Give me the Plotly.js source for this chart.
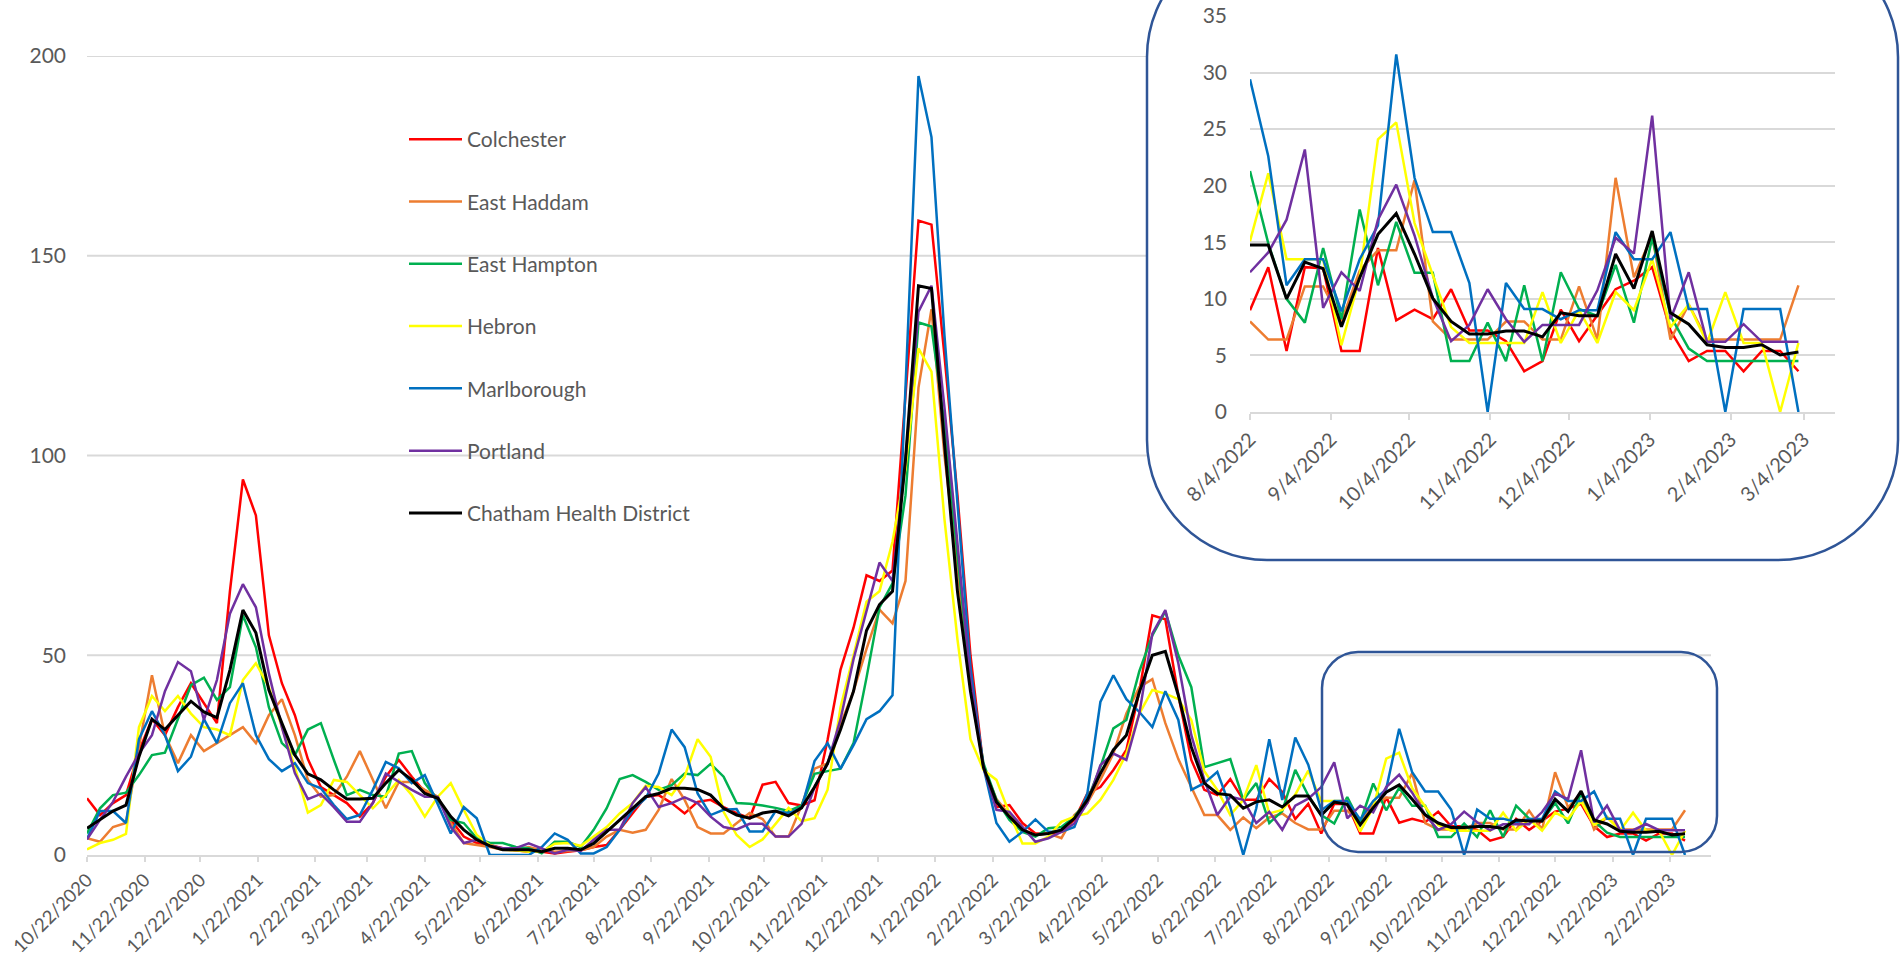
<!DOCTYPE html>
<html>
<head>
<meta charset="utf-8">
<script src="https://cdn.plot.ly/plotly-3.0.1.min.js"></script>
<style>html,body{margin:0;padding:0;background:#fff;}#chart{width:1902px;height:964px;}</style>
</head>
<body>
<div id="chart"></div>
<script>
// ---------- DATA ----------
const weeks = [
 '2020-10-22','2020-10-29','2020-11-05','2020-11-12','2020-11-19','2020-11-26','2020-12-03','2020-12-10','2020-12-17','2020-12-24','2020-12-31',
 '2021-01-07','2021-01-14','2021-01-21','2021-01-28','2021-02-04','2021-02-11','2021-02-18','2021-02-25','2021-03-04','2021-03-11','2021-03-18','2021-03-25',
 '2021-04-01','2021-04-08','2021-04-15','2021-04-22','2021-04-29','2021-05-06','2021-05-13','2021-05-20','2021-05-27','2021-06-03','2021-06-10','2021-06-17','2021-06-24',
 '2021-07-01','2021-07-08','2021-07-15','2021-07-22','2021-07-29','2021-08-05','2021-08-12','2021-08-19','2021-08-26','2021-09-02','2021-09-09','2021-09-16','2021-09-23','2021-09-30',
 '2021-10-07','2021-10-14','2021-10-21','2021-10-28','2021-11-04','2021-11-11','2021-11-18','2021-11-25','2021-12-02','2021-12-09','2021-12-16','2021-12-23','2021-12-30',
 '2022-01-06','2022-01-13','2022-01-20','2022-01-27','2022-02-03','2022-02-10','2022-02-17','2022-02-24','2022-03-03','2022-03-10','2022-03-17','2022-03-24','2022-03-31',
 '2022-04-07','2022-04-14','2022-04-21','2022-04-28','2022-05-05','2022-05-12','2022-05-19','2022-05-26','2022-06-02','2022-06-09','2022-06-16','2022-06-23','2022-06-30',
 '2022-07-07','2022-07-14','2022-07-21','2022-07-28','2022-08-04','2022-08-11','2022-08-18','2022-08-25','2022-09-01','2022-09-08','2022-09-15','2022-09-22','2022-09-29',
 '2022-10-06','2022-10-13','2022-10-20','2022-10-27','2022-11-03','2022-11-10','2022-11-17','2022-11-24','2022-12-01','2022-12-08','2022-12-15','2022-12-22','2022-12-29',
 '2023-01-05','2023-01-12','2023-01-19','2023-01-26','2023-02-02','2023-02-09','2023-02-16','2023-02-23','2023-03-02'
];

const colchester = [
 14.2,10,13,15,26,34,30,37,43,38,
 33,66,94,85,55,43,35,24,17,15,
 13,9.6,13,19.6,23.8,19.6,15.8,14,8.8,4.6,
 3,2.5,1.7,1.2,0.8,0.8,0.4,0.8,1.2,2,
 2.5,6.3,10.4,14.6,15,13,10.4,13.3,13.8,12,
 10.5,9.2,17.6,18.3,13,12.4,13.7,28.8,46.4,56.9,
 70,68.6,71.2,115,158.8,157.8,125,90,50,22,
 12,12.5,8,5.4,5.4,5.8,8.8,15.4,17,21.3,
 26.3,41,60,59,40,23.8,16.3,15,19,13.8,
 13.8,19,15.8,9,12.8,5.4,12.8,12.7,5.4,5.4,
 14.5,8.1,9.05,8.2,10.85,7.2,7.2,6.26,3.6,4.5,
 9.05,6.26,8.6,10.85,11.6,12.8,7.2,4.5,5.4,5.4,
 3.6,5.4,5.4,3.6
];
const eastHaddam = [
 4.2,3.3,7,8,27,45,30,23,30,26,
 28,30,32,28,35,39,30,18.8,14.6,15,
 19.6,26,18.8,11.7,18.3,18.3,16.3,14.6,8,3,
 2.5,2,1.3,1.2,2,1.2,0.8,1,1.2,2,
 4.6,6.3,5.6,6.3,11.3,19,13.8,7,5.4,5.4,
 7.9,10.5,9,4.6,4.6,12.4,21.6,22.9,32.7,41,
 51.6,61.4,58,68.6,117,136.6,100,72,42,22,
 14,10,6.5,5,5.4,4.2,10,13,18.8,25.4,
 35.4,42,44,33,24,17,10,10,6.3,9.4,
 6.7,9.4,10.4,8,6.4,6.4,11.1,11.1,8,12.5,
 14.3,14.3,20.5,8,6.4,6.4,6.4,8,8,6.4,
 6.4,11.1,6.4,20.7,11.9,15.6,6.4,9.5,6.4,6.4,
 6.4,6.4,6.4,11.2
];
const eastHampton = [
 5.4,11.7,15,15.6,20,25,25.6,34,42.5,44.4,
 38.8,42,60,52,37,28,25,31.4,33,23.8,
 15,16.3,15,14.6,25.4,26,18,13.8,8.8,8,
 4.2,3,3,2,1.7,0.4,3.3,3.3,2,6.3,
 11.7,19,20,18.3,16.3,17.5,20.4,20,22.8,19.6,
 13,12.8,12.4,11.8,11,12.4,20.3,21,21.6,28,
 44.4,62,68,90,133.3,132.3,108,75,43,23,
 13.8,8.8,5.8,4.6,6.7,7,9.6,13.8,22,31.7,
 33.8,46,55,61,50,42,22,23,24,13.8,
 18,8,11,21.3,14.9,10,7.9,14.5,8.2,17.9,
 11.2,16.8,12.3,12.3,4.5,4.5,7.9,4.5,11.2,4.5,
 12.35,9.1,8.5,13,7.9,15.4,8.5,5.6,4.5,4.5,
 4.5,4.5,4.5,4.5
];
const hebron = [
 1.4,3,3.8,5.3,32,39.8,36,39.8,35.4,32,
 31.4,30,43.8,48,42,32,22,10.6,12.5,18.8,
 18.3,15,11.7,15,18.8,15,9.6,14.6,18,11.3,
 5,2.5,1.3,1.2,0.8,0.8,2.8,3,2.3,4.6,
 7,10.4,13,17.3,17,15,19.6,29,24.6,10.8,
 5,2,3.9,7.8,11.8,8.5,9.2,16.3,37,50,
 63.4,66,78.4,96.7,126.8,121,84,54,29,21.3,
 18.8,10.4,2.9,2.9,4.6,8.3,9.6,10.4,13.8,18.8,
 25.4,35.4,41.3,40.4,39,33.8,21,16.3,10,13.8,
 22.5,10.4,11.3,15.1,21.1,13.5,13.5,13.5,5.9,11.9,
 24.1,25.6,16.7,12,7.5,6.1,6.1,6.1,6.1,10.6,
 6.1,9,6.1,10.6,9,13.5,7.5,9.5,6.1,10.6,
 6.1,6.1,0,6.1
];
const marlborough = [
 4,11,11,8,29,36,30,21,24.6,34,
 28,38,43,30,24,21,23,18,16.7,12.5,
 9,10,16.3,23.3,21.7,18,20,12.5,5.4,12,
 9.2,0,0,0,0,2,5.4,3.8,0.4,0.4,
 2,6.3,11.3,14.2,20.4,31.4,27,15.4,10,11.3,
 11.5,5.9,5.9,11,10.5,11.8,23.5,28,21.6,27.5,
 34,36,40,117,195,179.7,130,88,47,22,
 8,3.3,5.8,8.9,5.8,5.8,7,15.4,38.3,45,
 39,35.8,32,41,33.8,16.3,18,20.8,12,0,
 11.7,29,13.8,29.4,22.6,11.2,13.5,13.5,8.9,13.5,
 16.5,31.6,20.7,15.9,15.9,11.4,0,11.4,9.1,9.1,
 8.2,9,9,15.9,13.5,13.5,15.9,9.1,9.1,0,
 9.1,9.1,9.1,0
];
const portland = [
 3.9,8.8,13.3,19.6,25.4,30,41,48.3,46,33.8,
 43.8,60.4,67.8,62,45.4,32,20.5,14,15.3,12,
 8.3,8.3,13,20.4,18.3,16.3,14.6,14.6,7,3,
 3.8,2.3,1.7,1.7,2.9,1.7,0.4,1.3,1,3.8,
 6.3,6.3,13,17,12,13,14.4,13,9.6,7,
 6.4,7.8,7.8,4.6,4.6,7.8,17,22.9,34,49,
 61.4,73.2,68.6,99,136,142.5,112,78,44,22,
 11.3,10.8,7,3.3,4.2,5.8,7.9,13,22.5,25.4,
 23.8,35.4,55.4,61.3,48,30,18.8,10,14.6,13.8,
 8,10.8,6.3,12.35,14.1,17,23.2,9.2,12.35,10.7,
 17,20.1,15.6,10.1,6.26,7.7,10.85,8.2,6.2,7.7,
 7.7,7.7,10.75,15.4,14,26.2,8.2,12.35,6.2,6.2,
 7.76,6.2,6.2,6.2
];
const chatham = [
 6.7,8.8,11,12.5,24.6,34,31.4,35,38.5,35.8,
 34.4,46.3,61.3,55.6,41.3,33,25,20.3,18.8,16.3,
 14,14,14.2,18,21.3,18.8,15.4,14.2,9.6,6.3,
 3.8,2.3,1.3,1.3,1.3,0.8,1.7,1.7,1.3,2.9,
 5.8,8.8,11.7,14.6,15.4,16.7,16.7,16.4,15,11.7,
 10,9.2,10.5,11,9.8,11.8,17,22.9,31.4,41,
 56.2,62.7,66,99,142.5,141.8,103,66,41,22,
 13.3,9.6,6.3,5,5.4,6.3,9.2,13.8,20.4,26.3,
 30,40.8,50,51,40,27,18,15.4,15,11.7,
 13.3,13.8,12,14.76,14.76,10,13.25,12.67,7.54,11.87,
 15.7,17.55,13.96,10.04,8,6.9,6.9,7.15,7.15,6.64,
 8.76,8.5,8.5,13.96,10.9,16,8.76,7.76,5.94,5.71,
 5.71,5.94,5.04,5.3
];

const seriesNames = ['Colchester','East Haddam','East Hampton','Hebron','Marlborough','Portland','Chatham Health District'];
const seriesValues = [colchester, eastHaddam, eastHampton, hebron, marlborough, portland, chatham];
const seriesColors = ['#FF0000','#ED7D31','#00B050','#FFFF00','#0070C0','#7030A0','#000000'];
const mainYTicks = [0,50,100,150,200];
const insetYTicks = [0,5,10,15,20,25,30,35];
const insetStart = '2022-08-04';

// ---------- LAYOUT HELPERS ----------
const W = 1902, H = 964;
const FONT = 'Lato, "Open Sans", "Noto Sans", sans-serif';
const GRID = '#D9D9D9';
const TXT = '#595959';
const BORDER = '#2F5597';

function rr(x0, y0, x1, y1, r) {
  const k = r * 0.5523;
  const P = (x, y) => (x / W).toFixed(5) + ',' + (1 - y / H).toFixed(5);
  return 'M' + P(x0 + r, y0) + ' L' + P(x1 - r, y0) +
    ' C' + P(x1 - r + k, y0) + ' ' + P(x1, y0 + r - k) + ' ' + P(x1, y0 + r) +
    ' L' + P(x1, y1 - r) +
    ' C' + P(x1, y1 - r + k) + ' ' + P(x1 - r + k, y1) + ' ' + P(x1 - r, y1) +
    ' L' + P(x0 + r, y1) +
    ' C' + P(x0 + r - k, y1) + ' ' + P(x0, y1 - r + k) + ' ' + P(x0, y1 - r) +
    ' L' + P(x0, y0 + r) +
    ' C' + P(x0, y0 + r - k) + ' ' + P(x0 + r - k, y0) + ' ' + P(x0 + r, y0) + ' Z';
}

const i0 = weeks.indexOf(insetStart);
const traces = [];
seriesNames.forEach((n, s) => {
  traces.push({
    x: weeks, y: seriesValues[s], type: 'scatter', mode: 'lines', name: n,
    legendgroup: n, xaxis: 'x', yaxis: 'y',
    line: {color: seriesColors[s], width: s === 6 ? 3 : 2.5},
    hoverinfo: 'x+y+name'
  });
});
seriesNames.forEach((n, s) => {
  traces.push({
    x: weeks.slice(i0), y: seriesValues[s].slice(i0), type: 'scatter', mode: 'lines', name: n,
    showlegend: false, xaxis: 'x2', yaxis: 'y2',
    line: {color: seriesColors[s], width: s === 6 ? 3 : 2.5},
    hoverinfo: 'x+y+name'
  });
});

const mainL = 87, mainR = 1711, mainT = 56, mainB = 855;
const insL = 1250, insR = 1835, insT = 16, insB = 412;
const insetBoxLeft = 1147;

const shapes = [];
mainYTicks.slice(1).forEach(v => {
  shapes.push({
    type: 'line', xref: 'paper', yref: 'y', layer: 'below',
    x0: mainL / W, x1: (v > 50 ? insetBoxLeft : mainR) / W, y0: v, y1: v,
    line: {color: GRID, width: 2}
  });
});
shapes.push({type: 'path', xref: 'paper', yref: 'paper', layer: 'above',
  path: rr(1322, 652, 1717, 852, 36), line: {color: BORDER, width: 2.5}, fillcolor: 'rgba(0,0,0,0)'});
shapes.push({type: 'path', xref: 'paper', yref: 'paper', layer: 'above',
  path: rr(1147, -63, 1898, 560, 120), line: {color: BORDER, width: 2.5}, fillcolor: 'rgba(0,0,0,0)'});

const layout = {
  width: W, height: H,
  margin: {l: 0, r: 0, t: 0, b: 0, autoexpand: false},
  paper_bgcolor: '#ffffff', plot_bgcolor: '#ffffff',
  font: {family: FONT, size: 21, color: TXT},
  showlegend: true,
  hovermode: 'closest',
  xaxis: {
    domain: [mainL / W, mainR / W], anchor: 'y', type: 'date',
    range: ['2020-10-22', '2023-03-16'],
    tick0: '2020-10-22', dtick: 'M1', tickformat: '%-m/%-d/%Y', tickangle: -45,
    ticks: 'outside', ticklen: 5, tickwidth: 1.5, tickcolor: GRID,
    showline: true, linecolor: GRID, linewidth: 2, showgrid: false, zeroline: false,
    tickfont: {family: FONT, size: 18.5, color: TXT}
  },
  yaxis: {
    domain: [1 - mainB / H, 1 - mainT / H], anchor: 'x',
    range: [0, 200], tickvals: mainYTicks, showgrid: false, zeroline: false, showline: false,
    ticks: '', ticklabelstandoff: 20,
    tickfont: {family: FONT, size: 21, color: TXT}
  },
  xaxis2: {
    domain: [insL / W, insR / W], anchor: 'y2', type: 'date',
    range: ['2022-08-04', '2023-03-16'],
    tick0: '2022-08-04', dtick: 'M1', tickformat: '%-m/%-d/%Y', tickangle: -45,
    ticks: 'outside', ticklen: 6, tickwidth: 1.5, tickcolor: GRID,
    showline: true, linecolor: GRID, linewidth: 2, showgrid: false, zeroline: false,
    tickfont: {family: FONT, size: 20, color: TXT}
  },
  yaxis2: {
    domain: [1 - insB / H, 1 - insT / H], anchor: 'x2',
    range: [0, 35], tickvals: insetYTicks, showgrid: true, gridcolor: GRID, gridwidth: 2,
    zeroline: false, showline: false, ticks: '', ticklabelstandoff: 22,
    tickfont: {family: FONT, size: 21, color: TXT}
  },
  legend: {
    x: 404 / W, y: 1 - 119 / H, xanchor: 'left', yanchor: 'top',
    traceorder: 'grouped', tracegroupgap: 32, itemwidth: 53,
    bgcolor: 'rgba(0,0,0,0)', borderwidth: 0,
    font: {family: FONT, size: 21, color: TXT}
  },
  shapes: shapes
};

Plotly.newPlot('chart', traces, layout, {displayModeBar: false, responsive: false});
</script>
</body>
</html>
